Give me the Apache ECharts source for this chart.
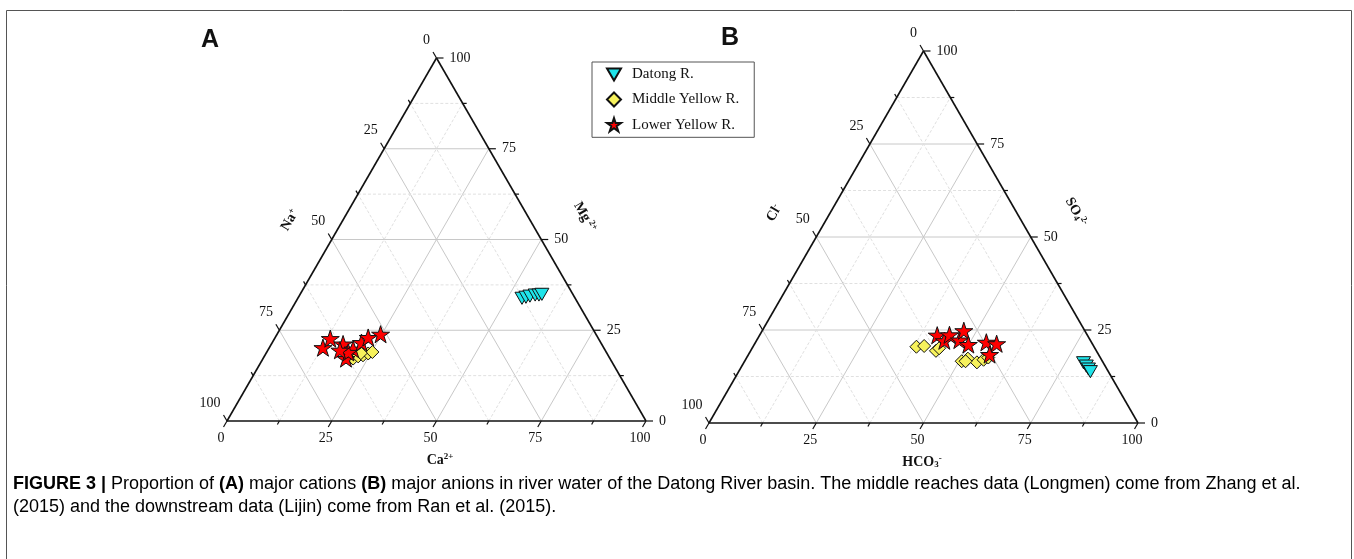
<!DOCTYPE html>
<html><head><meta charset="utf-8">
<script src="https://cdn.jsdelivr.net/npm/echarts@6/dist/echarts.min.js"></script>
<style>html,body{margin:0;padding:0;background:#fff}#c{width:1354px;height:559px}</style>
</head><body><div id="c"></div>
<script>
// ---------------- DATA ----------------
const seriesNames = ['Datong R.', 'Middle Yellow R.', 'Lower Yellow R.'];
// Panel A (cations): [Ca2+ %, Mg2+ %]; Na+ = 100 - Ca - Mg
const cationsDatong = [[53.5,33.8],[54.3,34.1],[55.1,34.4],[56.2,34.7],[57.1,34.7],[57.7,34.9]];
const cationsMiddle = [[21.5,17.2],[22.4,17.8],[23.4,18.1],[24.4,18.6],[25.2,19.0],[22.6,18.7]];
const cationsLower  = [[12.8,20.2],[13.3,22.7],[17.1,21.2],[19.8,17.2],[20.2,19.8],[21.3,21.6],[22.2,23.0],[24.7,23.9],[19.5,18.9],[17.2,19.5]];
// Panel B (anions): [HCO3- %, SO4 2- %]; Cl- = 100 - HCO3 - SO4
const anionsDatong = [[79.2,16.2],[80.3,15.3],[81.2,14.5],[82.0,13.8]];
const anionsMiddle = [[38.1,20.5],[39.8,20.7],[43.2,19.4],[43.6,20.1],[50.6,16.6],[51.7,17.3],[54.3,16.3],[55.5,17.0],[56.3,17.6],[51.5,16.6]];
const anionsLower  = [[41.4,23.6],[43.8,22.1],[44.2,23.7],[47.2,22.3],[47.0,24.8],[49.9,21.1],[53.8,21.7],[56.4,21.3],[56.2,18.4]];
const majorTicks = [0,25,50,75,100];
const minorTicks = [12.5,37.5,62.5,87.5];
const tickLabels = ['0','25','50','75','100'];

// ---------------- HELPERS ----------------
// ternary (bottom component a, top component t) -> cartesian (x = a + t/2, y = t)
const toXY = d => [d[0] + d[1] / 2, d[1]];

function gridSegments() {
  const segs = [];
  [25,50,75].forEach(v => pushSeg(segs, v, 1));
  minorTicks.forEach(v => pushSeg(segs, v, 2));
  return segs;
}
function pushSeg(segs, v, kind) {
  segs.push([v/2, v, 100 - v/2, v, kind]);            // constant top component
  segs.push([v, 0, v + (100 - v)/2, 100 - v, kind]);  // constant bottom component
  segs.push([100 - v, 0, (100 - v)/2, 100 - v, kind]);// constant left component
}
const frameSegs = [[0,0,100,0,0],[0,0,50,100,0],[100,0,50,100,0]];

function tickItems() {
  const items = [];
  majorTicks.forEach((v,i) => {
    items.push([v, 0, 0, 1, i]);
    items.push([(100 - v)/2, 100 - v, 1, 1, i]);
    items.push([100 - v/2, v, 2, 1, i]);
  });
  minorTicks.forEach(v => {
    items.push([v, 0, 0, 0, -1]);
    items.push([(100 - v)/2, 100 - v, 1, 0, -1]);
    items.push([100 - v/2, v, 2, 0, -1]);
  });
  return items;
}
const DIRS = [[-0.5, 0.866], [-0.5, -0.866], [1, 0]];

function segRender(params, api) {
  const p1 = api.coord([api.value(0), api.value(1)]);
  const p2 = api.coord([api.value(2), api.value(3)]);
  const k = api.value(4);
  const style = k === 0 ? {stroke:'#111', lineWidth:1.6}
    : k === 1 ? {stroke:'#c8c8c8', lineWidth:1}
    : {stroke:'#e0e0e0', lineWidth:1, lineDash:[3,2]};
  return {type:'line', shape:{x1:p1[0], y1:p1[1], x2:p2[0], y2:p2[1]}, style};
}
function tickRender(params, api) {
  const p = api.coord([api.value(0), api.value(1)]);
  const d = DIRS[api.value(2)];
  const len = api.value(3) ? 7 : 4;
  const children = [{type:'line', shape:{x1:p[0], y1:p[1], x2:p[0] + d[0]*len, y2:p[1] + d[1]*len},
    style:{stroke:'#111', lineWidth:1.2}}];
  const li = api.value(4);
  if (li >= 0) {
    const side = api.value(2);
    let x, y, align;
    if (side === 0) { x = p[0] - 6; y = p[1] + 17; align = 'center'; }
    else if (side === 1) { x = p[0] - 6.5; y = p[1] - 18; align = 'right'; }
    else { x = p[0] + 13; y = p[1]; align = 'left'; }
    children.push({type:'text', x, y, style:{text: tickLabels[li], fill:'#111',
      font:'14px "Liberation Serif", "DejaVu Serif", serif', align, verticalAlign:'middle'}});
  }
  return {type:'group', children};
}

const STAR = 'path://M50,0L61.23,34.55L97.55,34.55L68.17,55.9L79.39,90.45L50,69.1L20.61,90.45L31.83,55.9L2.45,34.55L38.77,34.55Z';
const TRI_DOWN = 'path://M0,0L20,0L10,17.32Z';
const DIAMOND = 'path://M10,0L20,10L10,20L0,10Z';
const markerStyles = [
  {symbol: TRI_DOWN, symbolSize: 14, color: '#1fe4ea'},
  {symbol: DIAMOND, symbolSize: 13, color: '#f7f25c'},
  {symbol: STAR, symbolSize: 18, color: '#ff0000'}
];

function panelSeries(gi, groups) {
  const base = {coordinateSystem:'cartesian2d', xAxisIndex:gi, yAxisIndex:gi, silent:true, animation:false};
  const s = [
    Object.assign({type:'custom', renderItem:segRender, data:gridSegments(), z:1}, base),
    Object.assign({type:'custom', renderItem:segRender, data:frameSegs, z:2}, base),
    Object.assign({type:'custom', renderItem:tickRender, data:tickItems(), z:2}, base)
  ];
  groups.forEach((g, i) => {
    s.push(Object.assign({
      type:'scatter', name: seriesNames[i], data: g.map(toXY),
      symbol: markerStyles[i].symbol, symbolSize: markerStyles[i].symbolSize, symbolKeepAspect: true,
      itemStyle: {color: markerStyles[i].color, borderColor:'#111', borderWidth:1, opacity:1}, z: 3 + i
    }, base));
  });
  return s;
}

const serifB = '"Liberation Serif", "DejaVu Serif", serif';
const axisRich = {
  b: {fontFamily: serifB, fontWeight:'bold', fontSize:14, fill:'#111', color:'#111'},
  sup: {fontFamily: serifB, fontWeight:'bold', fontSize:9, color:'#111', verticalAlign:'top', padding:[0,0,6,0]},
  sub: {fontFamily: serifB, fontWeight:'bold', fontSize:9, color:'#111', padding:[6,0,0,0]}
};
function axisTitle(x, y, text, rot) {
  return {type:'text', x, y, rotation: rot, z: 10,
    style:{text, rich: axisRich, align:'center', verticalAlign:'middle', fill:'#111'}};
}

const capSans = '"Liberation Sans", Arial, sans-serif';
const capRich = {
  b: {fontFamily: capSans, fontWeight:'bold', fontSize:18, color:'#111'},
  n: {fontFamily: capSans, fontSize:18, color:'#222'},
  g: {fontFamily: capSans, fontSize:18, color:'#8c8c8c'}
};

const chart = echarts.init(document.getElementById('c'), null, {renderer:'canvas'});
const axisHidden = {type:'value', min:0, max:100, show:false};
chart.setOption({
  animation: false,
  backgroundColor: '#fff',
  grid: [
    {left:227, top:58, width:419, height:363},
    {left:709, top:51, width:429, height:372}
  ],
  xAxis: [Object.assign({gridIndex:0}, axisHidden), Object.assign({gridIndex:1}, axisHidden)],
  yAxis: [Object.assign({gridIndex:0}, axisHidden), Object.assign({gridIndex:1}, axisHidden)],
  legend: {
    data: seriesNames, left: 592, top: 62, orient: 'vertical',
    itemWidth: 14, itemHeight: 14, itemGap: 9.5,
    padding: [5, 15, 5, 14], borderColor: '#555', borderWidth: 1, borderRadius: 0,
    textStyle: {fontFamily: '"Liberation Serif", "DejaVu Serif", serif', fontSize: 15, color: '#111', padding:[0,0,0,6]},
    selectedMode: false
  },
  series: [].concat(
    panelSeries(0, [cationsDatong, cationsMiddle, cationsLower]),
    panelSeries(1, [anionsDatong, anionsMiddle, anionsLower])
  ),
  graphic: [
    {type:'rect', shape:{x:6.5, y:10.5, width:1345, height:600}, style:{fill:'none', stroke:'#555', lineWidth:1}, z:0, silent:true},
    {type:'text', x:210, y:40, style:{text:'A', font:'bold 25px "Liberation Sans", Arial, sans-serif', fill:'#111', align:'center', verticalAlign:'middle'}},
    {type:'text', x:730, y:38, style:{text:'B', font:'bold 25px "Liberation Sans", Arial, sans-serif', fill:'#111', align:'center', verticalAlign:'middle'}},
    axisTitle(440, 460, '{b|Ca}{sup|2+}', 0),
    axisTitle(290, 220, '{b|Na}{sup|+}', Math.PI/3),
    axisTitle(585, 217, '{b|Mg}{sup| 2+}', -Math.PI/3),
    axisTitle(922, 462, '{b|HCO}{sub|3}{sup|-}', 0),
    axisTitle(774, 213, '{b|Cl}{sup|-}', Math.PI/3),
    axisTitle(1076, 212, '{b|SO}{sub|4}{sup|2-}', -Math.PI/3),
    {type:'text', x:13, y:484, style:{rich: capRich, verticalAlign:'middle', align:'left',
      text:'{b|FIGURE 3 | }{n|Proportion of }{b|(A)}{n| major cations }{b|(B)}{n| major anions in river water of the Datong River basin. The middle reaches data (Longmen) come from }{g|Zhang et al.}'}},
    {type:'text', x:13, y:507, style:{rich: capRich, verticalAlign:'middle', align:'left',
      text:'{g|(2015)}{n| and the downstream data (Lijin) come from }{g|Ran et al. (2015)}{n|.}'}}
  ]
});
</script></body></html>
